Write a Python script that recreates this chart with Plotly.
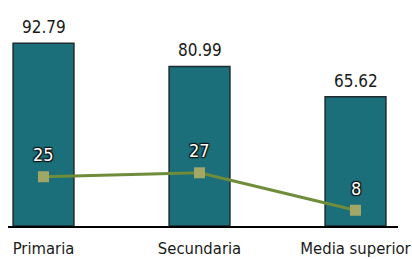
import plotly.graph_objects as go

categories = ["Primaria", "Secundaria", "Media superior"]
bar_values = [92.79, 80.99, 65.62]
line_values = [25, 27, 8]

FONT = "DejaVu Sans Condensed, Roboto, sans-serif"

fig = go.Figure()
fig.add_trace(go.Bar(
    x=categories, y=bar_values, width=0.39,
    marker=dict(color="#1a6f7a", line=dict(color="#1d2b2c", width=1.5)),
    hoverinfo="skip",
))
fig.add_trace(go.Scatter(
    x=categories, y=line_values, mode="lines+markers",
    line=dict(color="#6f8c3a", width=3),
    marker=dict(symbol="square", size=11, color="#a2a767"),
    hoverinfo="skip",
))

annotations = []
for c, v in zip(categories, bar_values):
    annotations.append(dict(x=c, y=v, text=f"{v:.2f}", showarrow=False,
                            yanchor="middle", yshift=16,
                            font=dict(family=FONT, size=17, color="#1a1a1a")))
outline = "-1px -1px 1px #111, 1px -1px 1px #111, -1px 1px 1px #111, 1px 1px 1px #111"
for c, v in zip(categories, line_values):
    annotations.append(dict(x=c, y=v, text=str(v), showarrow=False,
                            yanchor="middle", yshift=22,
                            font=dict(family=FONT, size=18, color="white", shadow=outline)))

fig.update_layout(
    width=412, height=259,
    margin=dict(l=8, r=14, t=0, b=33, autoexpand=False),
    paper_bgcolor="white", plot_bgcolor="white",
    showlegend=False,
    annotations=annotations,
    xaxis=dict(type="category", range=[-0.2276, 2.2724], showline=True,
               linecolor="black", linewidth=2, showgrid=False, ticks="",
               automargin=False, ticklabelstandoff=6,
               tickfont=dict(family=FONT, size=16.5, color="#1a1a1a")),
    yaxis=dict(range=[0, 114.7], visible=False, showgrid=False, zeroline=False),
)

fig.write_html("out.html", config={"displayModeBar": False},
               post_script="document.body.style.margin='0';document.body.style.padding='0';")
